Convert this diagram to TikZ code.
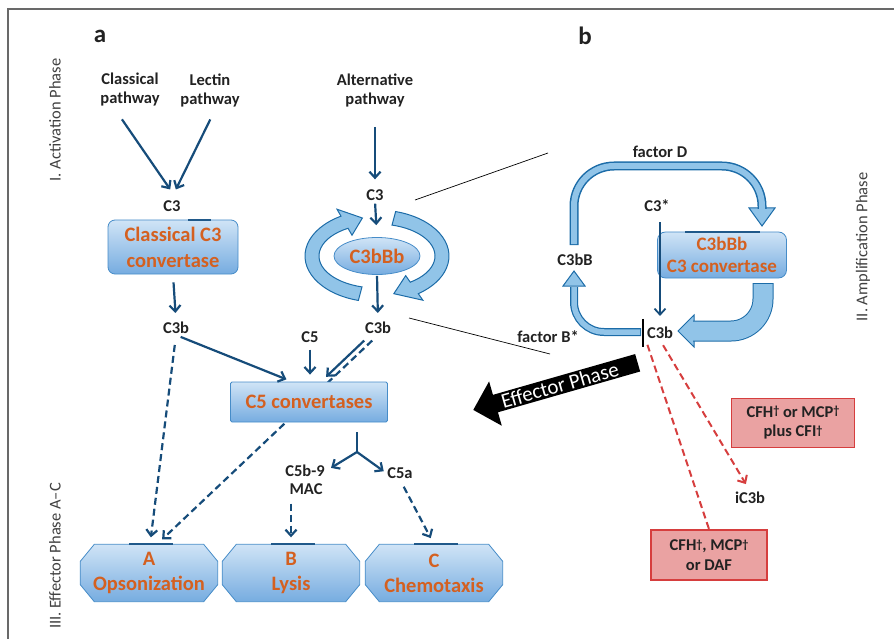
\documentclass[tikz,border=0pt]{standalone}
\usepackage{fontspec}
\setmainfont{Carlito}
\usetikzlibrary{positioning,calc,backgrounds,arrows.meta,shapes.geometric,shapes.arrows}

\definecolor{arrblue}{RGB}{22,76,122}
\definecolor{boxline}{RGB}{70,140,200}
\definecolor{boxtop}{RGB}{208,228,246}
\definecolor{boxbot}{RGB}{118,172,224}
\definecolor{convorange}{RGB}{212,96,32}
\definecolor{ribfill}{RGB}{145,196,232}
\definecolor{ribline}{RGB}{28,108,168}
\definecolor{inhfill}{RGB}{234,162,162}
\definecolor{inhline}{RGB}{214,62,62}
\definecolor{labtext}{RGB}{34,34,34}
\definecolor{framegray}{RGB}{105,105,105}

\newcommand{\dg}{\raisebox{2.5pt}{\fontsize{12}{12}\selectfont †}}

\tikzset{lbl/.style={font=\bfseries\fontsize{16.5}{19}\selectfont,text=labtext,align=center,inner sep=1pt},
         phase/.style={font=\fontsize{16.5}{18}\selectfont,text=black!75,rotate=90},
         conv/.style={draw=boxline,line width=0.8pt,top color=boxtop,bottom color=boxbot,text=convorange,
                      font=\bfseries\fontsize{20.5}{26}\selectfont,align=center,inner sep=2pt},
         octbox/.style={text=convorange,align=center,inner sep=0pt,
                        minimum width=137pt,minimum height=57pt,font=\bfseries\fontsize{20.5}{25}\selectfont},
         octfill/.style={draw=boxline,line width=0.8pt,top color=boxtop,bottom color=boxbot},
         arr/.style={draw=arrblue,line width=2.2pt,-{Straight Barb[length=6pt,width=11pt]}},
         darr/.style={arr,dash pattern=on 7pt off 4pt},
         inhbox/.style={draw=inhline,line width=1.8pt,fill=inhfill,font=\bfseries\fontsize{16.5}{19.5}\selectfont,
                        text=labtext,align=center,inner sep=2pt},
         rdash/.style={draw=inhline,line width=2pt,dash pattern=on 7pt off 4pt},
         rarr/.style={rdash,-{Straight Barb[length=6pt,width=11pt]}},
         link/.style={draw=black,line width=0.7pt},
         ribbon/.style={fill=ribfill,draw=ribline,line width=1pt},
         bandout/.style={draw=ribline,line width=#1},
         bandin/.style={draw=ribfill,line width=#1},
         tick/.style={draw=arrblue!80!boxline,line width=2pt}}

\begin{document}
\begin{tikzpicture}[x=1pt,y=-1pt]
\useasboundingbox (0,0) rectangle (894,639);
\draw[framegray,line width=2.5pt] (8,640) -- (8,9) -- (895,9);

\node[lbl,font=\bfseries\fontsize{25}{27}\selectfont] (pa) at (100,36) {a};
\node[lbl,font=\bfseries\fontsize{25}{27}\selectfont] (pb) at (585,36) {b};
\node[phase] (act) at (55,120) {I. Activation Phase};
\node[phase] (amp) at (863,247) {II. Amplification Phase};
\node[phase] (eff) at (55,556) {III. Effector Phase A--C};

% panel a
\node[lbl] (cp) at (130,90) {Classical\\pathway};
\node[lbl] (lp) at (210,90) {Lectin\\pathway};
\node[lbl] (c3a) at (172,206) {C3};
\node[conv,rounded corners=7pt,minimum width=130pt,minimum height=54pt] (ccv) at (173,247) {Classical C3\\convertase};
\node[lbl] (c3ba) at (176,328) {C3b};

\node[lbl] (ap) at (375,90) {Alternative\\pathway};
\node[lbl] (c3alt) at (375,195) {C3};
\node[ellipse,conv,minimum width=86pt,minimum height=37pt,inner sep=0pt] (alt) at (377,256) {C3bBb};
\node[lbl] (c3bb) at (378,328) {C3b};

\node[lbl] (c5) at (310,337) {C5};
\node[conv,rounded corners=1.5pt,minimum width=157pt,minimum height=40pt] (c5cv) at (309,402) {C5 convertases};
\coordinate (fork) at (357,452);
\node[lbl] (c5b9) at (305,471) {C5b-9};
\node[lbl] (mac) at (306,489) {MAC};
\node[lbl] (c5a) at (400,473) {C5a};

\node[octbox] (opso) at (149,573) {A\\Opsonization};
\node[octbox] (lysis) at (291,573) {B\\Lysis};
\node[octbox] (chemo) at (434,573) {C\\Chemotaxis};

% panel b
\node[lbl] (facd) at (660,152) {factor D};
\node[lbl] (c3s) at (657,206) {C3*};
\node[conv,rounded corners=8pt,minimum width=129pt,minimum height=46pt,font=\bfseries\fontsize{19}{22}\selectfont] (c3cv) at (722,255) {C3bBb\\C3 convertase};
\node[lbl] (c3bB) at (575,260) {C3bB};
\node[lbl] (c3br) at (660,333) {C3b};
\node[lbl] (facb) at (548,337) {factor B*};
\node[inhbox,minimum width=123pt,minimum height=49pt] (cfi) at (793,423) {CFH\dg{} or MCP\dg\\plus CFI\dg};
\node[lbl] (ic3b) at (750,498) {iC3b};
\node[inhbox,minimum width=116pt,minimum height=50pt] (daf) at (709,555) {CFH\dg, MCP\dg\\or DAF};
\node[single arrow,fill=black,text=white,shape border rotate=180,rotate=16,anchor=tip,
      minimum height=171pt,single arrow head extend=14pt,inner xsep=4pt,inner ysep=1.5pt,
      font=\fontsize{21}{23}\selectfont] (effp) at (473,410) {Effector Phase};

\coordinate (zt1) at (415,200);
\coordinate (zt2) at (548,153);
\coordinate (zb1) at (409,318);
\coordinate (zb2) at (550,354);

\begin{scope}[on background layer]
\filldraw[ribbon] ($(alt)+(105:72 and 46)$) arc[start angle=105,end angle=240,x radius=72,y radius=46]
  -- ($(alt)+(240:80 and 54)$) -- ($(alt)+(257:65 and 39)$) -- ($(alt)+(240:50 and 24)$)
  -- ($(alt)+(240:58 and 32)$) arc[start angle=240,end angle=105,x radius=58,y radius=32] -- cycle;
\filldraw[ribbon] ($(alt)+(-75:72 and 46)$) arc[start angle=-75,end angle=55,x radius=72,y radius=46]
  -- ($(alt)+(55:80 and 54)$) -- ($(alt)+(75:65 and 39)$) -- ($(alt)+(55:50 and 24)$)
  -- ($(alt)+(55:58 and 32)$) arc[start angle=55,end angle=-75,x radius=58,y radius=32] -- cycle;
\foreach \b in {opso,lysis,chemo}
  {\shadedraw[octfill] ($(\b.north west)+(14,0)$) -- ($(\b.north east)+(-14,0)$) -- ($(\b.north east)+(0,17)$)
     -- ($(\b.south east)+(0,-17)$) -- ($(\b.south east)+(-14,0)$) -- ($(\b.south west)+(14,0)$)
     -- ($(\b.south west)+(0,-17)$) -- ($(\b.north west)+(0,17)$) -- cycle;}
\draw[darr,shorten <=8pt,shorten >=7pt] (c3bb.south) -- ([xshift=8pt]opso.north);
\end{scope}

\foreach \b in {opso,lysis,chemo}
  {\draw[tick] ([xshift=-20pt]\b.north) -- ([xshift=24pt]\b.north);}
\draw[tick] ([xshift=15pt]ccv.north) -- ([xshift=38pt]ccv.north);
\draw[tick] ([xshift=-37pt]c3cv.north) -- ([xshift=38pt]c3cv.north);

\draw[arr,shorten <=14pt,shorten >=12pt] ([xshift=-16pt]cp.south) -- ([xshift=5pt]c3a.north);
\draw[arr,shorten <=13pt,shorten >=11pt] ([xshift=6pt]lp.south) -- ([xshift=-1pt]c3a.north);
\draw[arr,shorten <=8pt,shorten >=8pt] (ccv.south) -- (c3ba.north);
\draw[arr,shorten <=19pt,shorten >=9pt] (ap.south) -- (c3alt.north);
\draw[arr,shorten <=2pt,shorten >=12pt] (c3alt.south) -- (alt.north);
\draw[arr,shorten <=1pt,shorten >=8pt] (alt.south) -- (c3bb.north);
\draw[arr,shorten <=5pt,shorten >=6pt] (c3ba.south) -- ([xshift=-17pt]c5cv.north);
\draw[darr,shorten <=10pt,shorten >=7pt] (c3ba.south) -- ([xshift=1pt]opso.north);
\draw[arr,shorten <=6pt,shorten >=7pt] (c5.south) -- (c5.south |- c5cv.north);
\draw[arr,shorten <=8pt,shorten >=7pt] ([xshift=-8pt]c3bb.south) -- ([xshift=12pt]c5cv.north);
\draw[draw=arrblue,line width=2.2pt] ([xshift=48pt,yshift=-10pt]c5cv.south) -- (fork);
\draw[arr,shorten >=6pt] (fork) -- (c5b9.east);
\draw[arr,shorten >=3pt] (fork) -- (c5a.west);
\draw[darr,shorten <=8pt,shorten >=7pt] (mac.south -| lysis.north) -- (lysis.north);
\draw[darr,shorten <=8pt,shorten >=7pt] (c5a.south) -- (chemo.north);

\draw[link] (zt1) -- (zt2);
\draw[link] (zb1) -- (zb2);

% amplification loop
\filldraw[ribbon] (749,208) -- (762,226) -- (775,208) -- cycle;
\draw[bandout=9pt,rounded corners=40pt] (574,245) -- (574,166) -- (762,166) -- (762,209);
\draw[bandin=6pt,rounded corners=40pt,shorten <=1pt] (574,245) -- (574,166) -- (762,166) -- (762,209);
\filldraw[ribbon] (694,315) -- (678,331) -- (694,347) -- cycle;
\draw[bandout=21pt,rounded corners=32pt] (763,283) -- (763,331) -- (693,331);
\draw[bandin=19pt,rounded corners=32pt,shorten <=1pt] (763,283) -- (763,331) -- (693,331);
\filldraw[ribbon] (563,286) -- (574,271) -- (585,286) -- cycle;
\draw[bandout=8pt,rounded corners=30pt] (641,332) -- (574,332) -- (574,287);
\draw[bandin=5.5pt,rounded corners=30pt,shorten <=1pt] (641,332) -- (574,332) -- (574,287);

\draw[arr,line width=1.8pt,shorten <=9pt,shorten >=10pt] (c3s.south -| c3br.north) -- (c3br.north);
\draw[line width=2pt] ([xshift=-3pt,yshift=7pt]c3br.north west) -- ([xshift=-3pt,yshift=-7pt]c3br.south west);
\draw[rdash,shorten <=5pt] (c3br.south west) -- (daf.north);
\draw[rarr,shorten <=6pt,shorten >=8pt] (c3br.south) -- (ic3b.north);
\end{tikzpicture}
\end{document}
